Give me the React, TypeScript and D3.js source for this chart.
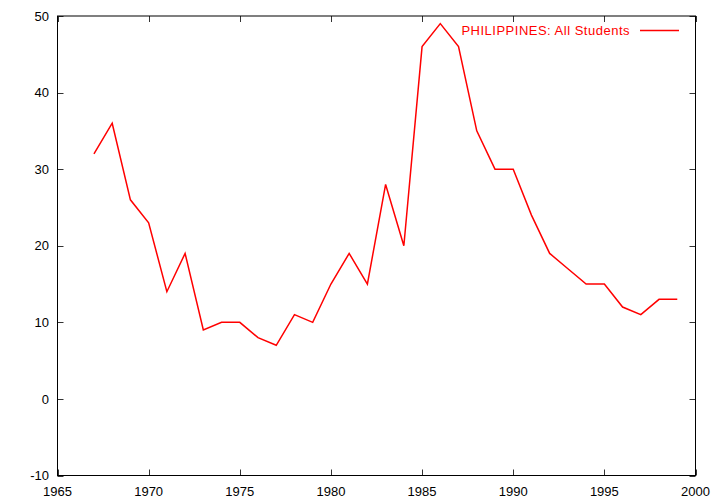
import React from "react";
import * as d3 from "d3";

const years = [1967,1968,1969,1970,1971,1972,1973,1974,1975,1976,1977,1978,1979,1980,1981,1982,1983,1984,1985,1986,1987,1988,1989,1990,1991,1992,1993,1994,1995,1996,1997,1998,1999];
const values = [32,36,26,23,14,19,9,10,10,8,7,11,10,15,19,15,28,20,46,49,46,35,30,30,24,19,17,15,15,12,11,13,13];
const xTicks = [1965,1970,1975,1980,1985,1990,1995,2000];
const yTicks = [-10,0,10,20,30,40,50];
const seriesLabel = "PHILIPPINES: All Students";

const W = 720, H = 504;
const L = 57.5, R = 695.5, T = 16, B = 475.5;

export default function App() {
  const x = d3.scaleLinear().domain([1965, 2000]).range([L, R]);
  const y = d3.scaleLinear().domain([-10, 50]).range([B, T]);
  const line = d3.line<number>().x((_, i) => x(years[i])).y((d) => y(d));
  const font = "'Liberation Sans', Arial, sans-serif";
  return (
    <svg width={W} height={H} style={{ position: "absolute", left: 0, top: 0, background: "#fff" }}>
      <rect x={0} y={0} width={W} height={H} fill="#fff" />
      {xTicks.map((t) => (
        <g key={"x" + t}>
          <line x1={Math.round(x(t)) + 0.5} x2={Math.round(x(t)) + 0.5} y1={B} y2={B - 6} stroke="#333" />
          <line x1={Math.round(x(t)) + 0.5} x2={Math.round(x(t)) + 0.5} y1={T} y2={T + 6} stroke="#333" />
          <text x={x(t)} y={496} textAnchor="middle" fontFamily={font} fontSize={13} fill="#000">{t}</text>
        </g>
      ))}
      {yTicks.map((t) => (
        <g key={"y" + t}>
          <line x1={L} x2={L + 6} y1={Math.round(y(t)) + 0.5} y2={Math.round(y(t)) + 0.5} stroke="#333" />
          <line x1={R} x2={R - 6} y1={Math.round(y(t)) + 0.5} y2={Math.round(y(t)) + 0.5} stroke="#333" />
          <text x={49} y={y(t) + 4.7} textAnchor="end" fontFamily={font} fontSize={13} fill="#000">{t}</text>
        </g>
      ))}
      <rect x={L} y={T} width={R - L} height={B - T} fill="none" stroke="#000" strokeWidth={1} />
      <path d={line(values) || ""} fill="none" stroke="#ff0000" strokeWidth={1.5} strokeLinejoin="miter" />
      <text x={630} y={35} textAnchor="end" fontFamily={font} fontSize={13} letterSpacing={0.5} fill="#ff0000">{seriesLabel}</text>
      <line x1={640} x2={679} y1={30.5} y2={30.5} stroke="#ff0000" strokeWidth={1.5} />
    </svg>
  );
}
